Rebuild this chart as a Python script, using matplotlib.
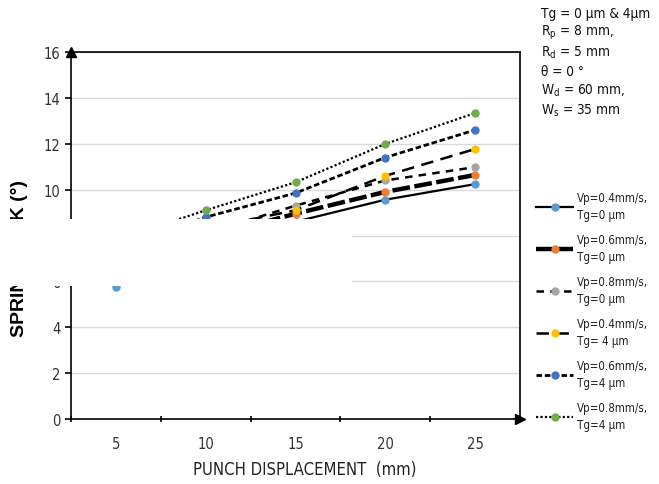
import matplotlib
matplotlib.use('Agg')
import matplotlib.pyplot as plt
from matplotlib.patches import Rectangle

plt.rcParams['font.family'] = ['DejaVu Sans']
plt.rcParams['font.stretch'] = 'condensed'

displacement = [5, 10, 15, 20, 25]

vp04_tg0 = [5.75, 7.5, 8.6, 9.56, 10.24]
vp06_tg0 = [6.4, 7.9, 8.95, 9.9, 10.64]
vp08_tg0 = [6.7, 8.1, 9.3, 10.4, 10.98]
vp04_tg4 = [7.0, 8.3, 9.1, 10.6, 11.77]
vp06_tg4 = [7.4, 8.8, 9.85, 11.4, 12.6]
vp08_tg4 = [7.8, 9.1, 10.32, 11.99, 13.34]

series_labels = ['Vp=0.4mm/s,\nTg=0 µm', 'Vp=0.6mm/s,\nTg=0 µm', 'Vp=0.8mm/s,\nTg=0 µm',
                 'Vp=0.4mm/s,\nTg= 4 µm', 'Vp=0.6mm/s,\nTg=4 µm', 'Vp=0.8mm/s,\nTg=4 µm']

params_text = ['Tg = 0 µm & 4µm', r'$\mathregular{R_p}$ = 8 mm,', r'$\mathregular{R_d}$ = 5 mm',
               'θ = 0 °', r'$\mathregular{W_d}$ = 60 mm,', r'$\mathregular{W_s}$ = 35 mm']

series = [vp04_tg0, vp06_tg0, vp08_tg0, vp04_tg4, vp06_tg4, vp08_tg4]
marker_colors = ['#5B9BD5', '#ED7D31', '#A5A5A5', '#FFC000', '#4472C4', '#70AD47']
styles = [
    dict(lw=1.6, ls='-'),
    dict(lw=3.2, ls=(0, (4, 1))),
    dict(lw=1.8, ls=(0, (3, 2.5))),
    dict(lw=1.8, ls=(0, (5, 3))),
    dict(lw=2.0, ls=(0, (2, 1))),
    dict(lw=1.6, ls=(0, (1, 1))),
]

fig = plt.figure(figsize=(6.59, 4.85), dpi=100)
W, H = 659, 485
ax = fig.add_axes([71 / W, (H - 420) / H, (520 - 71) / W, (420 - 53) / H])

xpos = list(range(len(displacement)))
for vals, col, st, lab in zip(series, marker_colors, styles, series_labels):
    ax.plot(xpos, vals, color='black', marker='o', markersize=5,
            markerfacecolor=col, markeredgecolor=col, label=lab, **st)

ax.set_xlim(-0.5, len(displacement) - 0.5)
ax.set_ylim(0, 16)
ax.set_yticks(range(0, 17, 2))
ax.set_xticks(xpos)
ax.set_xticklabels([str(d) for d in displacement])
ax.set_xticks([i - 0.5 for i in range(len(displacement) + 1)], minor=True)
ax.tick_params(axis='x', which='major', length=0, pad=12, labelsize=10.5, labelcolor='#333333')
ax.tick_params(axis='x', which='minor', length=4, width=1.2, direction='inout')
ax.tick_params(axis='y', length=4, width=1.2, labelsize=10.5, labelcolor='#333333')
ax.grid(axis='y', color='#D9D9D9', lw=1)
ax.set_axisbelow(True)
for s in ax.spines.values():
    s.set_color('black')
    s.set_linewidth(1.2)

# axis arrows
ax.plot([0], [1], marker='^', color='black', markersize=7, transform=ax.transAxes, clip_on=False)
ax.plot([1], [0], marker='>', color='black', markersize=7, transform=ax.transAxes, clip_on=False)

ax.set_xlabel('PUNCH DISPLACEMENT  (mm)', fontsize=12, color='#222222', labelpad=8)
ax.xaxis.set_label_coords(0.52, -0.112)
ax.set_ylabel('SPRINGBACK (°)', fontsize=14, fontweight='bold',
              family=['Liberation Sans', 'DejaVu Sans'], fontstretch='normal')
ax.yaxis.set_label_coords(-0.095, 0.44)

leg = ax.legend(loc='upper left', bbox_to_anchor=(526 / W, (H - 182) / H), bbox_transform=fig.transFigure,
                frameon=False, fontsize=8.3, handlelength=3.2, handletextpad=0.35, labelspacing=1.08,
                numpoints=1)
for t in leg.get_texts():
    t.set_linespacing(1.35)
    t.set_color('#222222')

for i, t in enumerate(params_text):
    fig.text(541 / W, (H - 14 - i * 19.3) / H, t, fontsize=9.8, va='center', ha='left', color='#111111')

# white block covering part of the original image
fig.patches.append(Rectangle((0, (H - 287) / H), 352 / W, 67 / H, transform=fig.transFigure,
                             facecolor='white', edgecolor='none', zorder=10))

fig.savefig('out.png', dpi=100)
